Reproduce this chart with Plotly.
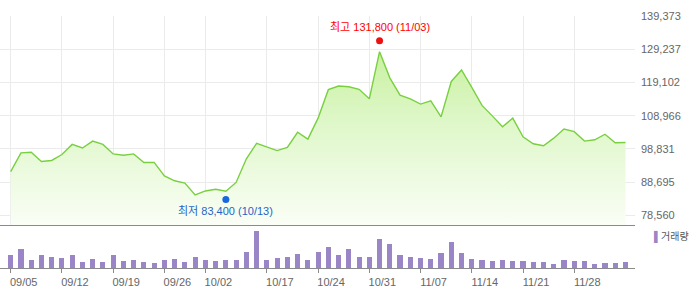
import plotly.graph_objects as go

dates = ['09/05', '09/08', '09/09', '09/10', '09/11', '09/12', '09/15', '09/16', '09/17', '09/18',
         '09/19', '09/22', '09/23', '09/24', '09/25', '09/26', '09/29', '09/30', '10/01', '10/02',
         '10/10', '10/13', '10/14', '10/15', '10/16', '10/17', '10/20', '10/21', '10/22', '10/23',
         '10/24', '10/27', '10/28', '10/29', '10/30', '10/31', '11/03', '11/04', '11/05', '11/06',
         '11/07', '11/10', '11/11', '11/12', '11/13', '11/14', '11/17', '11/18', '11/19', '11/20',
         '11/21', '11/24', '11/25', '11/26', '11/27', '11/28', '12/01', '12/02', '12/03', '12/04',
         '12/05']

close = [91900, 97600, 97800, 95000, 95300, 97100, 100200, 99100, 101200, 100200,
         97300, 96900, 97300, 94700, 94700, 90600, 89100, 88400, 84800, 86000,
         86500, 85900, 88600, 95800, 100500, 99400, 98300, 99300, 103900, 101800,
         108200, 116900, 118000, 117800, 117000, 114100, 128500, 120500, 115200, 114100,
         112500, 113500, 108600, 119400, 122900, 117600, 112100, 108900, 105600, 108200,
         102500, 100400, 99800, 102100, 104900, 104100, 101200, 101600, 103300, 100700,
         100800]

volume = [3700, 5500, 2200, 3700, 3100, 2800, 3700, 1600, 2500, 1600,
          3700, 1900, 2200, 1600, 1300, 2200, 2500, 1600, 3100, 2200,
          1900, 2200, 2200, 4600, 10900, 2200, 2800, 3100, 4000, 2200,
          4600, 6100, 3700, 5500, 3100, 3100, 8500, 7000, 3700, 3100,
          2800, 2500, 4300, 7600, 4300, 2500, 2200, 1900, 2200, 1900,
          1900, 1600, 1600, 1000, 2200, 1900, 1900, 1000, 1300, 1300,
          1600]

tick_dates = ['09/05', '09/12', '09/19', '09/26', '10/02', '10/17', '10/24',
              '10/31', '11/07', '11/14', '11/21', '11/28']
price_ticks = [78560, 88695, 98831, 108966, 119102, 129237, 139373]

high_date, high_value = '11/03', 131800
low_date, low_value = '10/13', 83400

FONT = "Liberation Sans, Arial, Noto Sans CJK KR, sans-serif"
LINE = '#78d040'
VOL = '#9a86c6'
GRID = '#ebebeb'

fig = go.Figure()

fig.add_trace(go.Scatter(
    x=dates, y=close, xaxis='x2', yaxis='y2', mode='lines',
    line=dict(color=LINE, width=1.4),
    fill='tozeroy',
    fillgradient=dict(type='vertical', start=75607, stop=139373,
                      colorscale=[[0, 'rgba(250,254,246,1)'], [0.5, 'rgba(222,247,200,1)'],
                                  [1, 'rgba(190,238,140,1)']]),
    showlegend=False, hoverinfo='x+y'))

fig.add_trace(go.Scatter(
    x=[high_date], y=[high_value], xaxis='x2', yaxis='y2', mode='markers',
    marker=dict(color='#ee1111', size=7), showlegend=False))
fig.add_trace(go.Scatter(
    x=[low_date], y=[low_value], xaxis='x2', yaxis='y2', mode='markers',
    marker=dict(color='#1a66dd', size=7), showlegend=False))

fig.add_trace(go.Bar(
    x=dates, y=volume, xaxis='x', yaxis='y', marker=dict(color=VOL, line=dict(width=0)),
    width=0.5, showlegend=False))

xr = [-1.044, 60.93]
vol_top = 0.165

fig.update_layout(
    width=700, height=289,
    margin=dict(l=0, r=65, t=16, b=21),
    paper_bgcolor='white', plot_bgcolor='white',
    font=dict(family=FONT, size=11, color='#666'),
    xaxis=dict(type='category', range=xr, domain=[0, 1], anchor='y',
               categoryorder='array', categoryarray=dates,
               tickmode='array', tickvals=tick_dates, ticktext=tick_dates,
               showgrid=False, showline=True, linecolor='#8a8a8a', linewidth=1,
               ticks='outside', ticklen=4, tickcolor='#8a8a8a',
               ticklabelshift=13, ticklabelstandoff=0,
               tickfont=dict(size=11, color='#666'), automargin=False),
    yaxis=dict(domain=[0, vol_top], range=[0, 12500], showgrid=False,
               showticklabels=False, zeroline=False, showline=False, automargin=False),
    xaxis2=dict(type='category', range=xr, domain=[0, 1], anchor='y2', matches='x',
                categoryorder='array', categoryarray=dates,
                tickmode='array', tickvals=tick_dates, showticklabels=False,
                showgrid=True, gridcolor=GRID, gridwidth=1,
                showline=True, linecolor='#8a8a8a', linewidth=1.2, ticks='',
                automargin=False),
    yaxis2=dict(domain=[0.1706, 1], range=[75607, 139373], side='right', anchor='x2',
                tickmode='array', tickvals=price_ticks,
                ticktext=[f'{v:,}' for v in price_ticks],
                showgrid=True, gridcolor=GRID, gridwidth=1, zeroline=False,
                ticks='', ticklabelstandoff=5,
                tickfont=dict(size=11, color='#666'), automargin=False),
    bargap=0,
    annotations=[
        dict(x=high_date, y=high_value, xref='x2', yref='y2', showarrow=False,
             text=f'최고 {high_value:,} ({high_date})', yshift=14,
             font=dict(family=FONT, size=11, color='#ff0000')),
        dict(x=low_date, y=low_value, xref='x2', yref='y2', showarrow=False,
             text=f'최저 {low_value:,} ({low_date})', yshift=-12,
             font=dict(family=FONT, size=11, color='#1f64c8')),
        dict(x=1.026, y=0.122, xref='paper', yref='paper', xanchor='left', yanchor='middle',
             showarrow=False,
             text=f'<span style="color:{VOL}">▌</span>거래량',
             font=dict(family=FONT, size=10, color='#555')),
    ],
)

fig.write_html("out.html")
